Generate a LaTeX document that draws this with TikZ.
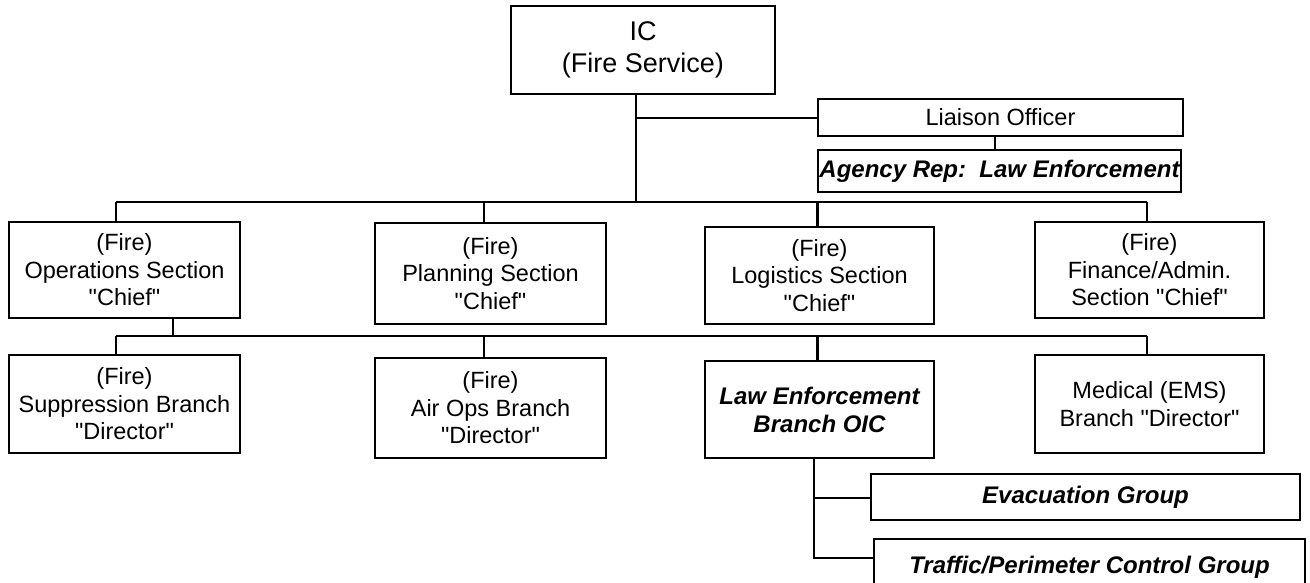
\documentclass[tikz,border=0pt]{standalone}
\usepackage{fontspec}
\setmainfont{Liberation Sans}[Ligatures=TeXOff]
\begin{document}
\begin{tikzpicture}[x=1pt,y=-1pt,
  box/.style={draw, line width=2.2pt, inner sep=0pt, align=center,
    font=\fontsize{23.5}{27.5}\selectfont},
  bibox/.style={box, font=\fontsize{24}{28}\selectfont\bfseries\itshape},
  conn/.style={line width=2.2pt}]
\useasboundingbox (0,0) rectangle (1310,582);
\clip (0,0) rectangle (1310,582);
% boxes
\node[box, minimum width=264, minimum height=88, font=\fontsize{27}{32}\selectfont] (ic) at (643,50) {IC\\(Fire Service)};
\node[box, minimum width=365, minimum height=37] (liaison) at (1000.5,117.5) {Liaison Officer};
\node[bibox, minimum width=363, minimum height=42] (agency) at (999.5,171) {Agency Rep:\ \ Law Enforcement};
\node[box, minimum width=231, minimum height=96] (ops) at (124.5,270) {(Fire)\\Operations Section\\"Chief"};
\node[box, minimum width=231, minimum height=101] (plan) at (490.5,273.5) {(Fire)\\Planning Section\\"Chief"};
\node[box, minimum width=229, minimum height=97] (log) at (819.5,275.5) {(Fire)\\Logistics Section\\"Chief"};
\node[box, minimum width=229, minimum height=96] (fin) at (1149.5,270) {(Fire)\\Finance/Admin.\\Section "Chief"};
\node[box, minimum width=231, minimum height=98] (supp) at (124.5,404) {(Fire)\\Suppression Branch\\"Director"};
\node[box, minimum width=231, minimum height=100] (air) at (490.5,408) {(Fire)\\Air Ops Branch\\"Director"};
\node[bibox, minimum width=229, minimum height=97] (law) at (819.5,409.5) {Law Enforcement\\Branch OIC};
\node[box, minimum width=229, minimum height=98] (med) at (1149.5,404) {Medical (EMS)\\Branch "Director"};
\node[bibox, minimum width=429, minimum height=46] (evac) at (1085.5,497) {Evacuation Group};
\node[bibox, minimum width=431, minimum height=56] (traffic) at (1089.5,567) {Traffic/Perimeter Control Group};
% bus coordinates
\coordinate (icdrop) at (636,202);
\coordinate (busL) at (116,202);
\coordinate (busR) at (1147,202);
\coordinate (p1) at (484,202);
\coordinate (p2) at (817.5,202);
\coordinate (lsplit) at (636,118);
\coordinate (lagx) at (995,0);
\coordinate (opsdrop) at (173,336);
\coordinate (bus2L) at (116,336);
\coordinate (bus2R) at (1147,336);
\coordinate (q1) at (484,336);
\coordinate (q2) at (817.5,336);
\coordinate (lawx) at (814,0);
\coordinate (evy) at (0,498);
\coordinate (try) at (0,558);
% connectors
\draw[conn] (ic.south -| icdrop) -- (icdrop);
\draw[conn] (lsplit) -- (liaison.west |- lsplit);
\draw[conn] (liaison.south -| lagx) -- (agency.north -| lagx);
\draw[conn] (busL) -- (busR);
\draw[conn] (busL) -- (busL |- ops.north);
\draw[conn] (p1) -- (p1 |- plan.north);
\draw[conn] (p2) -- (p2 |- log.north);
\draw[conn] (busR) -- (busR |- fin.north);
\draw[conn] (ops.south -| opsdrop) -- (opsdrop);
\draw[conn] (bus2L) -- (bus2R);
\draw[conn] (bus2L) -- (bus2L |- supp.north);
\draw[conn] (q1) -- (q1 |- air.north);
\draw[conn] (q2) -- (q2 |- law.north);
\draw[conn] (bus2R) -- (bus2R |- med.north);
\draw[conn] (law.south -| lawx) -- (lawx |- try) -- (traffic.west |- try);
\draw[conn] (lawx |- evy) -- (evac.west |- evy);
\end{tikzpicture}
\end{document}
